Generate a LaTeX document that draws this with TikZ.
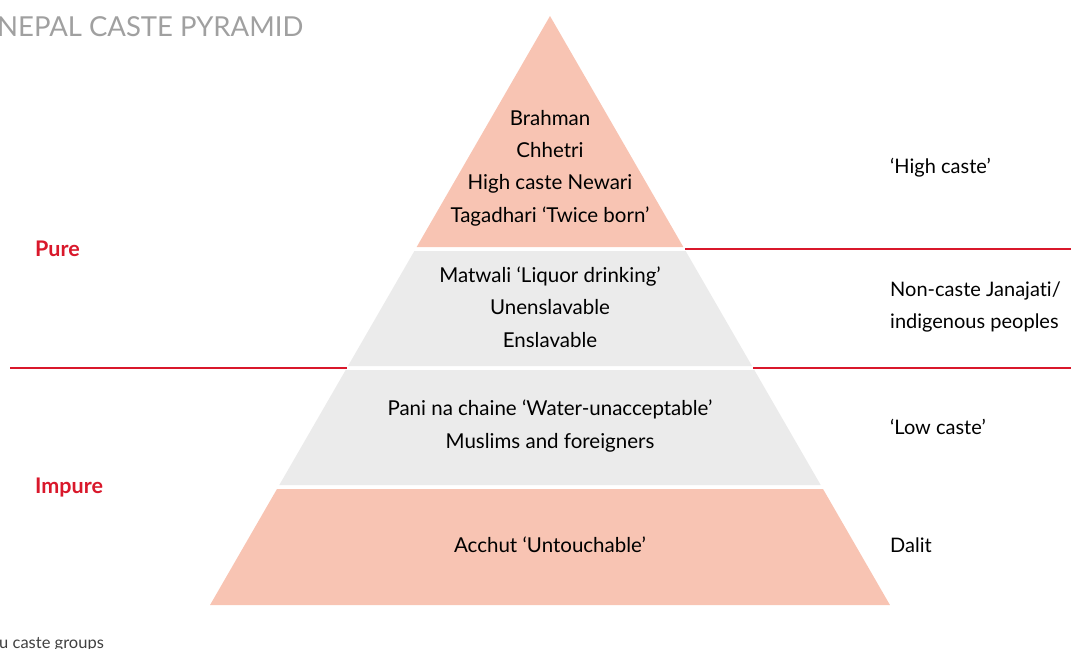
\documentclass[tikz,border=0pt]{standalone}
\usepackage{fontspec}
\setmainfont{Lato}[Ligatures=NoCommon]
\definecolor{salmon}{HTML}{F8C4B3}
\definecolor{stone}{HTML}{EBEBEB}
\definecolor{pured}{HTML}{D9182B}
\definecolor{titlegray}{HTML}{A0A0A0}
\tikzset{
  band/.style={align=center,font=\fontsize{20.5}{32.3}\selectfont},
  side/.style={anchor=west,align=left,inner sep=0pt,font=\fontsize{20}{32}\selectfont},
  purity/.style={anchor=west,inner sep=0pt,text=pured,font=\fontsize{21.5}{23}\selectfont\bfseries},
  divider/.style={pured,line width=1.3pt}
}
\begin{document}
\begin{tikzpicture}[x=1pt,y=-1pt]
  \useasboundingbox (0,0) rectangle (1071,648);
  % pyramid bands: top/bottom edge and fill
  \foreach \t/\b/\c in {16/247/salmon,251/366/stone,370/485/stone,489/605/salmon}
    \fill[\c] ({550-0.5772*(\t-16)},\t) -- ({550+0.5772*(\t-16)},\t)
      -- ({550+0.5772*(\b-16)},\b) -- ({550-0.5772*(\b-16)},\b) -- cycle;
  % red dividers
  \draw[divider] (685,249) -- (1071,249);
  \draw[divider] (10,368) -- (347,368);
  \draw[divider] (753,368) -- (1071,368);
  % title and footnote
  \node[anchor=base west,inner sep=0pt,text=titlegray,font=\fontsize{27.5}{30}\selectfont] (title) at (-3,36) {NEPAL CASTE PYRAMID};
  \node[anchor=base west,inner sep=0pt,text=black!75,font=\fontsize{16.5}{17}\selectfont] (foot) at (-1,648) {u caste groups};
  % band texts
  \node[band] (tagadhari) at (550,168) {Brahman\\Chhetri\\High caste Newari\\Tagadhari ‘Twice born’};
  \node[band] (matwali) at (550,307) {Matwali ‘Liquor drinking’\\Unenslavable\\Enslavable};
  \node[band] (pani) at (550,426) {Pani na chaine ‘Water-unacceptable’\\Muslims and foreigners};
  \node[band] (acchut) at (550,545) {Acchut ‘Untouchable’};
  % right-hand groups
  \node[side] (high) at (890,168) {‘High caste’};
  \node[side] (janajati) at (890,307) {Non-caste Janajati/\\indigenous peoples};
  \node[side] (low) at (890,427) {‘Low caste’};
  \node[side] (dalit) at (890,545) {Dalit};
  % purity
  \node[purity] (pure) at (35,249) {Pure};
  \node[purity] (impure) at (35,488) {Impure};
\end{tikzpicture}
\end{document}
